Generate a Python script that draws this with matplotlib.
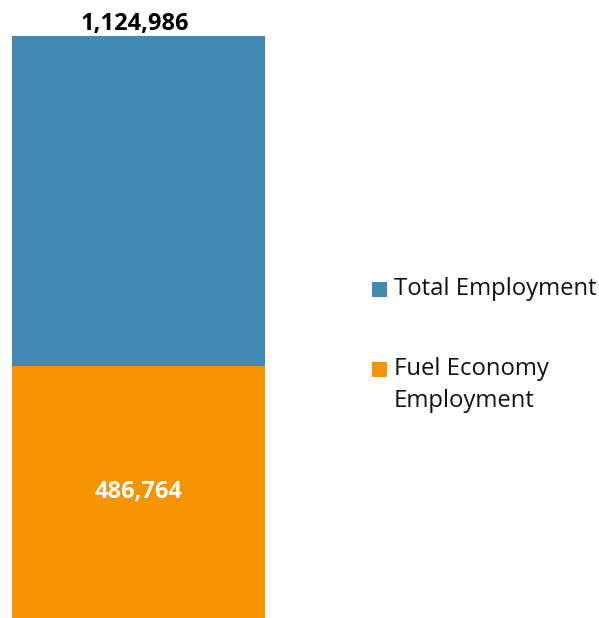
import matplotlib.pyplot as plt
from matplotlib.patches import Rectangle

plt.rcParams['font.family'] = ['Open Sans', 'DejaVu Sans']

# employment figures
series = ['Total Employment', 'Fuel Economy\nEmployment']
values = [1124986, 486764]
colors = ['#418AB3', '#F59300']

W, H = 599, 618
fig = plt.figure(figsize=(W / 100, H / 100), dpi=100)
ax = fig.add_axes([12 / W, 0, 253 / W, 582 / H])

# total bar behind, fuel economy share drawn over it
for val, col in zip(values, colors):
	ax.bar(0, val, width=1, color=col, linewidth=0)

ax.set_xlim(-0.5, 0.5)
ax.set_ylim(0, values[0])
ax.axis('off')

ax.text(-0.015, values[0], f'{values[0]:,}', ha='center', va='bottom',
	fontsize=17, fontweight='bold', color='black')
ax.text(0, values[1] / 2, f'{values[1]:,}', ha='center', va='center',
	fontsize=17, fontweight='bold', color='white')

# key on the right: square marker at first text line
key_rows = [(289, 289), (369, 385)]
for (sq_y, txt_y), label, col in zip(key_rows, series, colors):
	fig.add_artist(Rectangle((372 / W, 1 - (sq_y + 7.5) / H), 15 / W, 15 / H,
		transform=fig.transFigure, facecolor=col, edgecolor='none'))
	fig.text(394 / W, 1 - txt_y / H, label, ha='left', va='center',
		fontsize=17.2, color='#111111', linespacing=1.45)

fig.savefig('out.png', dpi=100)
